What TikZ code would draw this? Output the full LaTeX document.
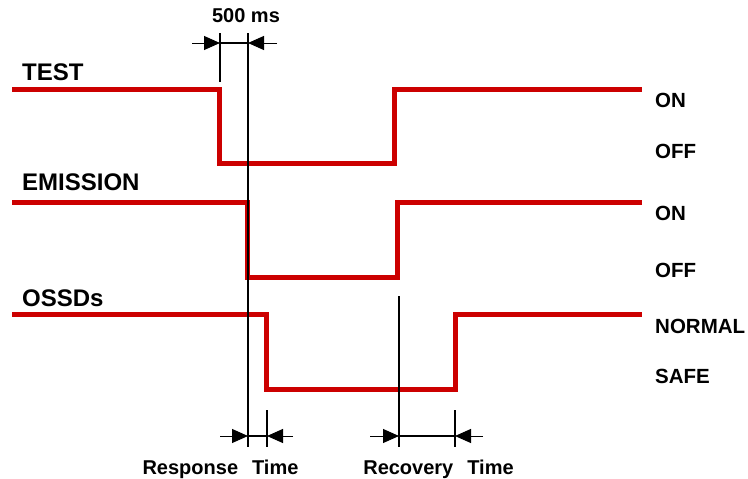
\documentclass[tikz,border=0pt]{standalone}
\usepackage{fontspec}
\setmainfont{Liberation Sans}
\usetikzlibrary{arrows.meta}
\definecolor{sigred}{RGB}{204,0,0}

\tikzset{
  signal/.style={draw=sigred, line width=5pt},
  cursor/.style={draw=black, line width=1.8pt},
  dimline/.style={draw=black, line width=1.2pt},
  dimarrow/.style={draw=black, line width=1pt, -{Triangle[length=16pt,width=14pt]}},
  namelabel/.style={anchor=west, inner sep=0pt, font=\fontsize{24}{27}\selectfont\bfseries},
  levellabel/.style={anchor=west, inner sep=0pt, font=\fontsize{20.5}{23}\selectfont\bfseries},
  timelabel/.style={anchor=base, inner sep=0pt, font=\fontsize{20}{23}\selectfont\bfseries},
}

\begin{document}
\begin{tikzpicture}[x=1pt, y=-1pt]
  \useasboundingbox (0,0) rectangle (748,479);
  % signals
  \draw[signal] (12,89) -| (219,163) -| (394,89) -- (642,89);
  \draw[signal] (12,202) -| (247,277) -| (397,202) -- (642,202);
  \draw[signal] (12,314) -| (266,389) -| (455,314) -- (642,314);
  % signal names
  \node[namelabel] (test) at (22,72) {TEST};
  \node[namelabel] (emission) at (22,182) {EMISSION};
  \node[namelabel] (ossds) at (22,298) {OSSDs};
  % levels
  \node[levellabel] (teston) at (655,100) {ON};
  \node[levellabel] (testoff) at (655,151) {OFF};
  \node[levellabel] (emison) at (655,213) {ON};
  \node[levellabel] (emisoff) at (655,270) {OFF};
  \node[levellabel] (normal) at (655,326) {NORMAL};
  \node[levellabel] (safe) at (655,376) {SAFE};
  % time marks
  \coordinate (a1) at (220,33);  \coordinate (a2) at (220,82);
  \coordinate (b1) at (248,33);  \coordinate (b2) at (248,447);
  \coordinate (c1) at (267,410); \coordinate (c2) at (267,447);
  \coordinate (d1) at (399,296); \coordinate (d2) at (399,447);
  \coordinate (e1) at (455,410); \coordinate (e2) at (455,447);
  \draw[cursor] (a1) -- (a2);
  \draw[cursor] (b1) -- (b2);
  \draw[cursor] (c1) -- (c2);
  \draw[cursor] (d1) -- (d2);
  \draw[cursor] (e1) -- (e2);
  % 500 ms
  \draw[dimarrow] (192,43) -- (a1 |- 0,43);
  \draw[dimarrow] (277,43) -- (b1 |- 0,43);
  \draw[dimline] (a1 |- 0,43) -- (b1 |- 0,43);
  \node[timelabel] (delay) at (246,23) {500 ms};
  % response time
  \draw[dimarrow] (220,436) -- (b1 |- 0,436);
  \draw[dimarrow] (293,436) -- (c1 |- 0,436);
  \draw[dimline] (b1 |- 0,436) -- (c1 |- 0,436);
  \node[timelabel] (response) at (220.5,474) {Response\hspace{0.7em}Time};
  % recovery time
  \draw[dimarrow] (370,436) -- (d1 |- 0,436);
  \draw[dimarrow] (483,436) -- (e1 |- 0,436);
  \draw[dimline] (d1 |- 0,436) -- (e1 |- 0,436);
  \node[timelabel] (recovery) at (438.5,474) {Recovery\hspace{0.7em}Time};
\end{tikzpicture}
\end{document}
